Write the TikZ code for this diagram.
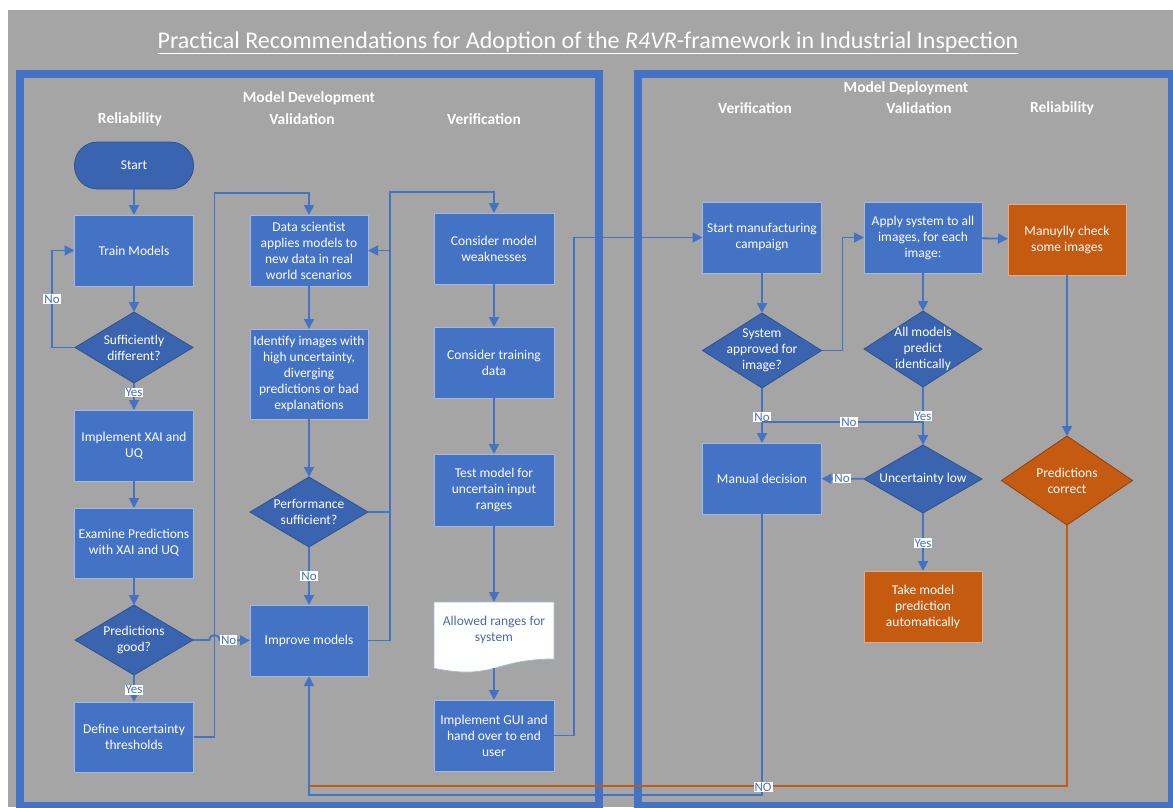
\documentclass[tikz,border=0pt]{standalone}
\usepackage{fontspec}
\setmainfont{Carlito}
\usetikzlibrary{shapes.geometric,arrows.meta,calc}

\definecolor{bggray}{HTML}{A5A5A5}
\definecolor{lineblue}{HTML}{4472C4}
\definecolor{boxblue}{HTML}{4472C4}
\definecolor{boxedge}{HTML}{A4B9E2}
\definecolor{decblue}{HTML}{3B64B0}
\definecolor{decedge}{HTML}{2F528F}
\definecolor{ored}{HTML}{C55A11}
\definecolor{oedge}{HTML}{E9A982}
\definecolor{odark}{HTML}{8E410D}
\definecolor{doctxt}{HTML}{4C6AA6}

\newcommand\bxfont{\fontsize{13.5}{16}\selectfont}
\newcommand\lblfont{\fontsize{13}{14}\selectfont}
\newcommand\hdfont{\fontsize{15.5}{18}\selectfont\bfseries}

\tikzset{
  stepbox/.style={rectangle, fill=boxblue, draw=boxedge, line width=0.8pt,
    text=white, align=center, font=\bxfont, inner sep=2pt,
    minimum width=119pt, minimum height=71pt, outer sep=0pt},
  orangebox/.style={stepbox, fill=ored, draw=oedge},
  decision/.style={diamond, fill=decblue, draw=decedge, line width=0.8pt,
    text=white, align=center, font=\bxfont, inner xsep=-18pt, inner ysep=-14pt,
    minimum width=118pt, minimum height=71pt, outer sep=0pt},
  startstop/.style={rectangle, rounded corners=23pt, fill=decblue, draw=decedge,
    line width=0.8pt, text=white, font=\bxfont, minimum width=119pt,
    minimum height=47pt, outer sep=0pt},
  docframe/.style={rectangle, minimum width=120pt, minimum height=66pt, inner sep=0pt, outer sep=0pt},
  docshape/.style={fill=white, draw=boxedge, line width=0.8pt},
  doctext/.style={text=doctxt, font=\bxfont, align=center},
  conn/.style={draw=lineblue, line width=1.8pt, -{Triangle[length=10pt,width=10pt]}},
  plainline/.style={draw=lineblue, line width=1.8pt},
  backconn/.style={draw=lineblue, line width=1.3pt, -{Triangle[length=10pt,width=10pt]}},
  oline/.style={draw=ored, line width=1.3pt},
  lbl/.style={fill=white, text=lineblue, font=\lblfont, inner xsep=1pt, inner ysep=0.5pt},
  head/.style={text=white, font=\hdfont, align=center},
  frame/.style={draw=lineblue, line width=7.5pt},
}

\begin{document}
\begin{tikzpicture}[x=1pt,y=-1pt]
\useasboundingbox (0,0) rectangle (1173,807);
\fill[bggray] (8,10) rectangle (1173,807);

% title and the two phase frames
\node[text=white, font=\fontsize{24}{27}\selectfont] (title) at (588,43)
  {\underline{Practical Recommendations for Adoption of the \textit{R4VR}-framework in Industrial Inspection}};
\draw[frame] (20,74) rectangle (599,806);
\draw[frame] (638,74) rectangle (1171.5,806);

% column headings
\node[head] (devhead) at (309,98) {Model Development};
\node[head] (devrel) at (130,119) {Reliability};
\node[head] (devval) at (302,119) {Validation};
\node[head] (devver) at (484,119) {Verification};
\node[head] (dephead) at (906,88) {Model Deployment};
\node[head] (depver) at (755,108) {Verification};
\node[head] (depval) at (919,108) {Validation};
\node[head] (deprel) at (1062,108) {Reliability};

% model development: reliability column
\node[startstop] (start) at (134,165.5) {Start};
\node[stepbox] (train) at (134,250.5) {Train Models};
\node[decision] (suff) at (134,347.5) {Sufficiently\\different?};
\node[stepbox] (implxai) at (134,445.5) {Implement XAI and\\UQ};
\node[stepbox, minimum height=70pt] (examine) at (134,543) {Examine Predictions\\with XAI and UQ};
\node[decision, minimum height=70pt] (predgood) at (134,640) {Predictions\\good?};
\node[stepbox, minimum height=70pt] (define) at (134,737) {Define uncertainty\\thresholds};

% model development: validation column
\node[stepbox, minimum width=118pt] (datasci) at (309,250.5) {Data scientist\\applies models to\\new data in real\\world scenarios};
\node[stepbox, minimum width=118pt, minimum height=90pt] (identify) at (309,374) {Identify images with\\high uncertainty,\\diverging\\predictions or bad\\explanations};
\node[decision, minimum height=70pt] (perf) at (309,512) {Performance\\sufficient?};
\node[stepbox, minimum width=118pt] (improve) at (309,640.5) {Improve models};

% model development: verification column
\node[stepbox, minimum width=120pt] (weak) at (494,248.5) {Consider model\\weaknesses};
\node[stepbox, minimum width=120pt] (trdata) at (494,362.5) {Consider training\\data};
\node[stepbox, minimum width=120pt, minimum height=72pt] (testm) at (494,490) {Test model for\\uncertain input\\ranges};
\node[docframe] (allowed) at (494,635) {};
\draw[docshape] (allowed.north west) -- (allowed.north east)
  -- ($(allowed.north east)+(0,57)$)
  .. controls ($(allowed.north)+(0,57)$) and ($(allowed.north)+(0,78.6)$)
  .. ($(allowed.north west)+(0,66.3)$) -- cycle;
\node[doctext] (allowedtext) at (494,630) {Allowed ranges for\\system};
\node[stepbox, minimum width=120pt] (gui) at (494,735.5) {Implement GUI and\\hand over to end\\user};

% model deployment
\node[stepbox] (startman) at (762,237.5) {Start manufacturing\\campaign};
\node[stepbox, minimum width=118pt] (apply) at (923,237.5) {Apply system to all\\images, for each\\image:};
\node[orangebox, minimum width=118pt] (manchk) at (1067,239.5) {Manuylly check\\some images};
\node[decision, minimum width=119pt, minimum height=75pt] (sysapp) at (762,350.5) {System\\approved for\\image?};
\node[decision, minimum height=76pt] (allmod) at (923,349) {All models\\predict\\identically};
\node[stepbox] (manual) at (762,478.5) {Manual decision};
\node[decision, minimum height=68pt] (unclow) at (923,479) {Uncertainty low};
\node[orangebox, minimum width=118pt] (takem) at (923,606.5) {Take model\\prediction\\automatically};
\node[decision, fill=ored, draw=odark, minimum width=131pt, minimum height=89pt] (predcor) at (1067,480.5) {Predictions\\correct};

% connectors: reliability column
\draw[conn] (start) -- (train);
\draw[conn] (train) -- (suff);
\draw[conn] (suff) -- node[lbl, pos=0.35] (yes1) {Yes} (implxai);
\draw[conn] (suff.west) -- ++(-23,0) |- node[lbl, pos=0.25] (no1) {No} (train.west);
\draw[conn] (implxai) -- (examine);
\draw[conn] (examine) -- (predgood);
\draw[conn] (predgood) -- node[lbl, pos=0.55] (yes2) {Yes} (define);
\draw[conn] (predgood.east) -- (209.5,640) .. controls (209.5,633.5) and (219.5,633.5) .. (219.5,640)
  -- node[lbl, pos=0.3] (no2) {No} (improve.west);
\draw[conn] (define.east) -- ++(21,0) |- ($(datasci.north)+(0,-22)$) -- (datasci.north);

% connectors: validation and verification columns
\draw[conn] (datasci) -- (identify);
\draw[conn] (identify) -- (perf);
\draw[conn] (perf) -- node[lbl, pos=0.5] (no3) {No} (improve);
\draw[conn] (perf.east) -- ++(22,0) |- ($(weak.north)+(0,-21)$) -- (weak.north);
\draw[conn] (improve.east) -- ++(22,0) |- (datasci.east);
\draw[conn] (weak) -- (trdata);
\draw[conn] (trdata) -- (testm);
\draw[conn] (testm) -- (allowed.north);
\draw[conn] (allowed.south) -- (gui);
\draw[conn] (gui.east) -- ++(20,0) |- (startman.west);

% connectors: deployment
\draw[conn] (startman) -- (sysapp);
\draw[conn] (sysapp.east) -- ++(21,0) |- (apply.west);
\draw[conn] (apply) -- (allmod);
\draw[conn] (apply) -- (manchk);
\draw[conn] (sysapp) -- node[lbl, pos=0.53] (no4) {No} (manual);
\draw[plainline] ($(allmod.south)+(0,35)$) -- node[lbl, pos=0.46] (no5) {No} ($(sysapp.south)+(0,34)$);
\draw[conn] (allmod) -- node[lbl, pos=0.5] (yes3) {Yes} (unclow);
\draw[conn] (unclow) -- node[lbl, pos=0.52] (no6) {No} (manual);
\draw[conn] (unclow) -- node[lbl, pos=0.52] (yes4) {Yes} (takem);
\draw[conn] (manchk) -- (predcor);

% return paths to the model improvement step
\draw[oline] (predcor.south) |- ($(improve.south)+(0,110)$);
\draw[backconn] (manual.south) -- ++(0,281) -| (improve.south);
\node[lbl] (no7) at (763,787) {NO};
\end{tikzpicture}
\end{document}
